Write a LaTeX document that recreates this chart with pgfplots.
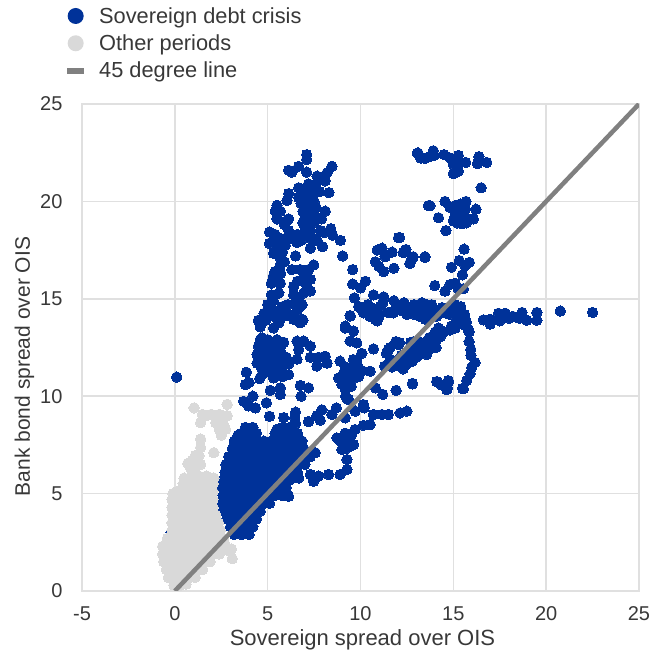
\documentclass[border=0pt]{standalone}
\usepackage{pgfplots}
\pgfplotsset{compat=1.18}
\usepackage{fontspec}
\setmainfont{Liberation Sans}
\definecolor{ecbblue}{RGB}{0,50,153}
\definecolor{othergray}{RGB}{217,217,217}
\definecolor{linegray}{RGB}{128,128,128}
\definecolor{gridgray}{RGB}{224,224,224}
\definecolor{txt}{RGB}{56,56,56}
\begin{document}
\begin{tikzpicture}[x=1pt,y=1pt]
\path[use as bounding box] (0,0) rectangle (654,653);
\begin{axis}[
  at={(82pt,62pt)}, anchor=south west,
  scale only axis, width=557pt, height=487pt,
  xmin=-5, xmax=25, ymin=0, ymax=25,
  clip mode=individual,
  xtick={-5,0,5,10,15,20,25}, ytick={0,5,10,15,20,25},
  grid=major, major grid style={gridgray, line width=1.5pt},
  axis line style={gridgray, line width=1.5pt},
  major tick length=0pt,
  tick label style={font=\fontsize{20}{22}\selectfont, text=txt},
  /pgf/number format/assume math mode=true,
  xticklabel style={yshift=-12pt},
  yticklabel style={xshift=-16pt},
  xlabel={Sovereign spread over OIS},
  ylabel={Bank bond spread over OIS},
  xlabel style={font=\fontsize{22}{24}\selectfont, text=txt, yshift=-2pt, xshift=2pt},
  ylabel style={font=\fontsize{21}{24}\selectfont, text=txt, yshift=-1pt, xshift=-19pt},
  legend cell align=left,
  legend style={draw=none, fill=none, at={(-0.027,1.203)}, anchor=north west,
    font=\fontsize{21.8}{23}\selectfont, text=txt, row sep=6pt, inner sep=0pt},
]
\addplot[only marks, color=ecbblue, mark=*, mark size=5.2pt, mark options={solid, fill=ecbblue, draw=ecbblue, line width=0pt},
  legend image code/.code={\fill[ecbblue, draw=none] (8.5pt,0) circle (8pt); \path[draw=none, fill=none] (0,-8pt) rectangle (30pt,8pt);}]
coordinates {
(-0.2,3.0) (-0.2,2.8) (0.1,10.98)
(3.2,2.9) (3.6,2.9) (4.0,2.9)
(3.0,3.3) (3.4,3.3) (3.8,3.3) (4.2,3.3)
(2.8,3.7) (3.2,3.7) (3.6,3.7) (4.0,3.7) (4.4,3.7)
(2.6,4.1) (3.0,4.1) (3.4,4.1) (3.8,4.1) (4.2,4.1) (4.6,4.1)
(2.55,4.5) (2.8,4.5) (3.2,4.5) (3.6,4.5) (4.0,4.5) (4.4,4.5) (4.8,4.5) (5.1,4.5)
(2.6,4.9) (3.0,4.9) (3.4,4.9) (3.8,4.9) (4.2,4.9) (4.6,4.9) (5.0,4.9) (5.4,4.9) (5.8,4.9) (6.1,4.9)
(2.55,5.3) (2.8,5.3) (3.2,5.3) (3.6,5.3) (4.0,5.3) (4.4,5.3) (4.8,5.3) (5.2,5.3) (5.6,5.3) (6.0,5.3)
(2.6,5.7) (3.0,5.7) (3.4,5.7) (3.8,5.7) (4.2,5.7) (4.6,5.7) (5.0,5.7) (5.4,5.7) (5.8,5.7) (6.2,5.7)
(2.7,6.1) (3.2,6.1) (3.6,6.1) (4.0,6.1) (4.4,6.1) (4.8,6.1) (5.2,6.1) (5.6,6.1) (6.0,6.1) (6.4,6.1) (6.6,6.1)
(2.75,6.5) (3.0,6.5) (3.4,6.5) (3.8,6.5) (4.2,6.5) (4.6,6.5) (5.0,6.5) (5.4,6.5) (5.8,6.5) (6.2,6.5) (6.6,6.5) (7.0,6.5)
(2.9,6.9) (3.2,6.9) (3.6,6.9) (4.0,6.9) (4.4,6.9) (4.8,6.9) (5.2,6.9) (5.6,6.9) (6.0,6.9) (6.4,6.9) (6.8,6.9) (7.3,6.9)
(3.1,7.3) (3.4,7.3) (3.8,7.3) (4.2,7.3) (4.6,7.3) (5.0,7.3) (5.4,7.3) (5.8,7.3) (6.2,7.3) (6.6,7.3) (6.95,7.3)
(3.2,7.7) (3.6,7.7) (4.0,7.7) (4.4,7.7) (4.8,7.7) (5.2,7.7) (5.6,7.7) (6.0,7.7) (6.4,7.7) (6.85,7.7)
(3.6,8.1) (4.0,8.1) (4.4,8.1) (5.4,8.1) (5.8,8.1) (6.2,8.1) (6.6,8.1)
(3.8,8.4) (4.2,8.4) (5.8,8.4) (6.2,8.4) (6.45,8.9) (5.5,8.3) (3.4,8.0) (6.5,8.6)
(7.1,22.4) (7.1,22.15) (6.13,21.6) (6.3,21.5) (6.67,21.8) (8.46,21.8) (7.1,21.5) (7.66,21.3) (8.2,21.47) (8.1,21.05) (7.9,21.2)
(7.2,20.9) (6.67,20.7) (6.13,20.4) (6.04,20.05) (8.3,20.45) (7.0,20.45) (7.4,20.8) (7.2,20.1) (6.67,20.2) (7.3,19.8)
(6.9,20.6) (7.6,20.9) (7.8,20.5) (7.5,20.4) (7.6,19.7) (6.9,19.5) (6.8,19.9) (7.0,18.3) (7.5,18.1) (6.6,18.3) (6.3,18.1) (6.9,18.9) (8.05,18.4)
(5.9,18.8) (6.0,19.0) (5.4,18.3) (5.5,17.9) (5.5,17.5) (5.9,16.9) (5.7,16.3) (5.4,16.4) (5.6,15.3) (5.3,14.9) (5.2,14.5) (5.8,14.6) (6.1,14.7) (6.35,14.1) (6.5,14.7) (6.6,15.9) (6.9,15.9) (7.0,16.2) (7.1,15.7) (6.7,14.9) (6.9,13.9) (4.9,13.9) (4.5,13.9)
(5.5,19.8) (5.41,19.5) (5.5,19.1) (5.68,19.5) (6.13,19.1) (8.1,19.5) (7.85,19.15) (7.1,19.35) (7.5,19.35)
(7.0,18.7) (7.3,18.5) (7,19.1) (7.5,18.93) (7.9,19.1) (7.3,19.5) (7,19.8) (7.5,20) (7.84,18.5) (7.66,18) (7.3,18.1)
(5.1,18.43) (5.1,17.84) (5.32,17.33) (5.68,18.1) (5.68,17.6) (5.68,17.1) (5.68,16.74) (6.5,17.2) (5.95,17.75) (6.8,18.0) (7.3,17.6) (7.96,17.67)
(8.4,18.6) (8.5,18.26) (8.92,18) (9.04,17.2) (9.58,16.5) (9.58,15.76) (10.26,15.9) (10,15.56) (9.67,15.05) (9.45,14.12) (9.18,13.6)
(6.58,17.9) (5.95,18.1) (6.13,18.5) (5.8,17.4)
(7.48,16.74) (7.2,16.5) (6.76,16.5) (6.3,16.5) (5.3,16.15) (5.2,15.8) (5.68,15.8) (5.2,15.2) (6.4,15.64) (6.4,15.2) (7.3,16) (7.3,15.4) (6.94,15.3) (6.76,14.63) (5,14.7)
(5.05,14.7) (4.8,14.25) (5.32,14.1) (5.86,14.1) (6.4,13.94) (6.85,14.7) (6.75,13.77) (6.85,13.95) (4.6,13.56) (5.32,13.5) (6.1,14.2) (5.6,13.77) (5.1,14.3) (5.6,14.4) (6.6,14.4)
(4.7,13) (4.5,12.57) (5.86,12.77) (6.58,12.83) (6.94,12.83) (7.3,12.57) (6.67,12.4) (6.58,11.9) (7.3,12) (7.74,12) (8.1,12.05) (8.2,11.7) (7.65,11.55)
(4.6,12.9) (4.7,12.3) (5,12.9) (5.5,12.9) (5.0,12.4) (5.5,12.3) (5.1,11.9) (5.55,11.9) (6,12) (5.1,11.5) (5.55,11.5) (5.8,11.3) (4.7,11.4) (4.7,11.1) (5.8,11)
(4.77,12.57) (5.2,12.57) (5.68,12.5) (4.43,12.15) (4.88,12.15) (5.32,12.15) (5.77,12.15) (4.43,11.7) (4.88,11.7) (5.32,11.7) (5.77,11.7) (6.13,11.65) (4.97,11.26) (5.41,11.26) (6.13,11.1)
(5.32,10.94) (4.57,10.9) (3.85,11.23) (3.8,10.6) (4.0,10.7) (5.14,10.3) (5.68,10.43) (5.68,10.09) (6.76,10.55) (7.2,10.43) (6.8,10)
(3.7,9.74) (4.2,10) (3.97,9.5) (4.34,9.4) (4.93,9.66) (5.1,8.97)
(6.5,9.18) (5.86,8.9) (7.92,9.3) (7.65,9) (7.2,8.7) (8.7,9.4) (8.46,9.06) (7.83,8.77) (9.18,8.89) (9.35,9.83) (9.2,10) (10.16,9.57) (9.71,9.23) (10.2,9.4)
(9.44,14.14) (9.18,13.5) (9.62,13.34) (9.44,12.83) (9.8,12.74) (10.7,12.43) (8.9,11.8) (9.62,11.88) (10.07,12.2) (9.44,11.46) (9.9,11.46) (10.52,11.28) (8.82,10.94) (9.27,11.03) (9.7,10.94) (9.18,10.34) (9.27,9.9) (9.7,11.5) (9.3,10.7)
(9.5,11.2) (9.9,11.0) (10.1,11.3) (9.1,11.2) (9.0,10.6) (9.5,10.5) (9.8,11.8) (9.2,11.5)
(10.8,10.43) (11.2,10.09) (11.92,10.3) (12.8,10.63) (14.14,10.72) (14.64,10.34) (14.73,10.72) (15.54,10.38)
(9.9,14.6) (10.16,14.28) (10.6,14.54) (11.06,14.6) (10.8,13.94) (11.77,14.28) (11.95,14.7) (12.5,14.2) (13,14.28) (13.56,14.54) (14.1,14.1) (15.54,14.1) (14.82,13.4) (14.28,13.25)
(10.4,14.7) (10.9,14.3) (11.2,14.8) (11.5,14.3) (12.2,14.4) (12.7,14.3) (13.1,14.6) (13.6,14.2) (14.1,14.4) (14.5,14.3) (14.8,14.2) (10.5,14.1) (11,14.1) (13.2,14.1) (13.8,14.3)
(11.4,12.2) (12.04,12.65) (11.3,11.54) (11.95,11.63) (12.5,11.7) (13,12) (13.56,12.14) (12.85,12.8) (13.4,12.74) (13.9,12.57) (12.2,12.1) (12.7,12.3)
(11.6,11.9) (12.1,11.9) (12.5,12) (12.9,12.3) (13.2,12.4) (13.5,12.3) (13.7,12.4) (14.1,12.9) (14.3,13.4) (14.5,13.3) (11.7,11.5) (12.3,11.4) (11.6,12.5) (11.9,12.8) (11.5,12.4) (13.1,12.8)
(10.7,9.06) (11.15,9.06) (11.5,9.06) (12.13,9.14) (12.5,9.23) (10.52,8.54) (10.16,8.5) (9.7,8.29) (9.18,8.1) (8.73,7.86) (9.27,7.77) (9.62,7.52) (9,7.26) (9.27,6.75) (9.27,6.23) (8.9,5.98) (8.28,5.98) (7.74,5.9) (7.3,5.98) (7.47,5.63) (6.67,5.8) (6.13,4.86) (7.56,7.1) (7.2,6.92)
(8.9,7.7) (9.1,7.9) (9.5,8) (9.4,7.4) (9.2,7.3)
(10.7,15.2) (11.25,15.1) (11.8,14.9) (10.9,17.5) (11.16,17.6) (12.05,18.14) (12.4,17.5) (11.7,17.4) (12.77,17.08) (12.68,16.86) (13.47,17.16) (10.8,16.9) (11,16.65) (11.25,16.4) (11.8,16.57) (11.33,17.16) (13.65,19.78) (13.1,22.48)
(10.7,14.12) (10.9,13.87) (10.1,14.38) (11.8,14.38) (12.35,14.8) (12.9,14.7) (13.4,14.75)
(13.06,22.48) (13.24,22.23) (13.47,22.2) (13.74,22.3) (13.92,22.6) (13.97,22.36) (14.5,22.4) (14.82,22.23) (15.27,22.36) (15,21.9) (15.32,22.03) (15.67,22) (15.27,21.55) (15,21.42) (16.38,22.3) (16.3,21.94) (16.8,22) (16.5,20.7)
(13.74,19.78) (14.2,19.16) (14.55,20) (14.6,18.5) (15.68,20) (16.22,19.6) (14.82,19.7) (15.1,19.78) (15.36,19.86) (15.1,19.44) (15.4,19.5) (15.65,19.6) (15.1,19.2) (15.45,18.85) (15.45,19.2) (15.8,19.1) (16.08,19.1) (15.7,18.9) (15.27,19.0) (15,19) (15.3,19.3) (15.6,19.3) (15.2,18.9)
(12.1,18.15) (12.45,17.53) (12.3,17.37) (12.84,17.16) (12.66,16.82) (13.47,17.13)
(15.58,17.55) (15.32,16.96) (15.86,16.87) (15.63,16.7) (14.9,16.62) (15.49,16.23) (14,15.68) (15.1,15.8) (14.82,15.73) (14.55,15.39) (15.54,15.52) (15.27,15.5)
(12.5,14.4) (12.84,14.6) (13.3,14.8) (13.83,14.7) (13.4,14.4) (13.9,14.46) (14.4,14.55) (15.1,14.7) (14.82,14.46) (13.5,13.95) (12.9,14.2)
(15.45,14.3) (15.27,14.04) (15.63,13.95) (14.9,13.6) (14.2,13.5) (15.8,13.45)
(15.3,14.4) (15.6,14.2) (15.2,13.9) (15.5,13.7) (15.1,13.5) (15.4,14.6) (15.7,13.8)
(16.62,13.92) (16.98,13.95) (17.43,14.26) (17.8,14.26) (17.5,13.87) (18.2,14.1) (18.7,14.3) (18.96,13.9) (19.5,14.3) (19.5,13.9) (20.76,14.37) (22.5,14.3) (16.98,13.7) (18,14) (18.55,14)
(15.85,13.3) (15.85,12.8) (15.94,12.4) (15.95,12.1) (16.17,11.73) (15.99,11.47) (15.9,11.14) (15.72,10.8) (15.5,10.4) (14.73,10.8) (14.68,10.4) (14.37,10.58) (14.1,10.75) (12.8,10.66)
(14.03,13.3) (14.3,13.05) (14.82,13.4) (13.7,13) (14.07,12.5) (13.5,12.4) (13.2,12.15) (12.96,12.5) (12.7,12.75) (12.4,12) (12.05,11.55) (12.8,11.8) (12.1,12.75) (13.7,12.7) (13.3,12.7) (12.4,11.6)
};
\addlegendentry{Sovereign debt crisis}
\addplot[only marks, color=othergray, mark=*, mark size=5.2pt, mark options={solid, fill=othergray, draw=othergray, line width=0pt},
  legend image code/.code={\fill[othergray, draw=none] (8.5pt,0) circle (8pt); \path[draw=none, fill=none] (0,-8pt) rectangle (30pt,8pt);}]
coordinates {
(-0.05,0.3) (0.3,0.3) (0.6,0.35)
(-0.35,0.7) (0.0,0.7) (0.4,0.7) (0.8,0.7) (1.1,0.7)
(-0.45,1.1) (-0.1,1.1) (0.3,1.1) (0.7,1.1) (1.1,1.1) (1.5,1.1)
(-0.6,1.5) (-0.3,1.5) (0.1,1.5) (0.5,1.5) (0.9,1.5) (1.3,1.5) (1.7,1.5) (1.9,1.5) (3.09,1.66)
(-0.65,1.9) (-0.3,1.9) (0.1,1.9) (0.5,1.9) (0.9,1.9) (1.3,1.9) (1.7,1.9) (2.1,1.9) (2.4,1.9) (3.05,2.15) (2.8,2.1)
(-0.65,2.3) (-0.4,2.3) (0,2.3) (0.4,2.3) (0.8,2.3) (1.2,2.3) (1.6,2.3) (2.0,2.3) (2.4,2.3) (2.7,2.4)
(-0.4,2.7) (-0.1,2.7) (0.3,2.7) (0.7,2.7) (1.1,2.7) (1.5,2.7) (1.9,2.7) (2.3,2.7) (2.6,2.7)
(-0.15,3.1) (0.2,3.1) (0.6,3.1) (1.0,3.1) (1.4,3.1) (1.8,3.1) (2.2,3.1) (2.45,3.1)
(-0.15,3.5) (0.1,3.5) (0.5,3.5) (0.9,3.5) (1.3,3.5) (1.7,3.5) (2.1,3.5) (2.35,3.5)
(-0.15,3.9) (0.2,3.9) (0.6,3.9) (1.0,3.9) (1.4,3.9) (1.8,3.9) (2.2,3.9)
(-0.15,4.3) (0.1,4.3) (0.5,4.3) (0.9,4.3) (1.3,4.3) (1.7,4.3) (2.05,4.3)
(-0.15,4.7) (0.2,4.7) (0.6,4.7) (1.0,4.7) (1.4,4.7) (1.8,4.7) (2.05,4.7)
(-0.1,5.0) (0.1,5.1) (0.5,5.1) (0.9,5.1) (1.3,5.1) (1.7,5.1) (2.05,5.1)
(0.45,5.5) (0.8,5.5) (1.2,5.5) (1.6,5.5) (2.05,5.5)
(0.5,5.8) (0.9,5.9) (1.3,5.9) (1.7,5.9) (2.1,5.8)
(0.85,6.3) (0.7,6.55) (1.1,6.3) (1.39,6.5) (1.1,6.95) (0.95,6.7) (1.3,6.95)
(1.39,7.37) (1.39,7.8) (2.1,7.1)
(1.04,9.4) (2.82,9.58) (1.48,9.07) (1.39,8.64) (1.96,9.07) (2.4,9.07) (2.82,9) (2.2,8.64) (2.73,8.3) (2.5,8) (1.7,9.0) (2.2,9.0) (2.6,8.6) (2.4,8.3)
};
\addlegendentry{Other periods}
\addplot[linegray, line width=4.5pt,
  legend image code/.code={\fill[linegray, draw=none] (0,-3pt) rectangle (17pt,3pt); \path[draw=none, fill=none] (0,-8pt) rectangle (30pt,8pt);}]
coordinates {(0,0) (25,25)};
\addlegendentry{45 degree line}
\end{axis}
\end{tikzpicture}
\end{document}
